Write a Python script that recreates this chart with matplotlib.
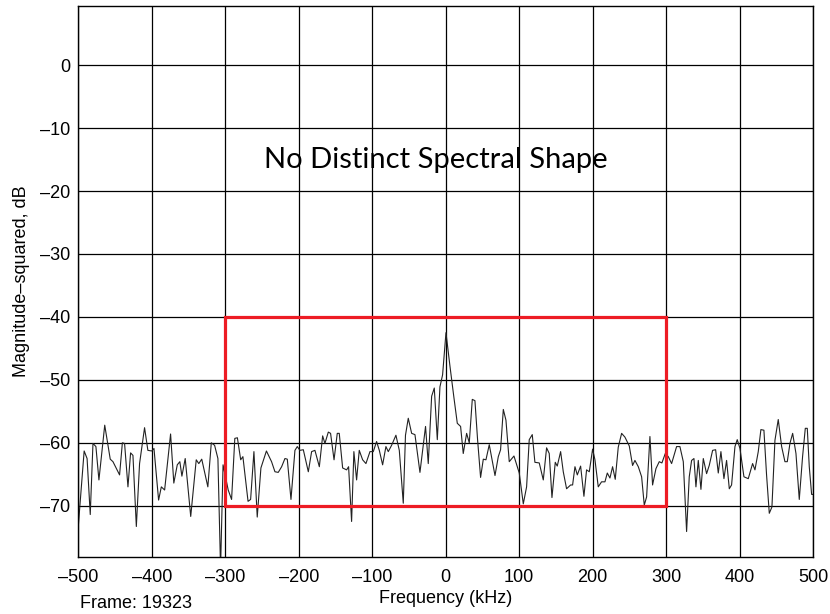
import matplotlib
matplotlib.use("Agg")
import matplotlib.pyplot as plt
from matplotlib.patches import Rectangle

# spectrum trace, frequency in kHz and magnitude-squared in dB
freq_khz = [
    -500, -492, -488, -483.7, -480, -476, -471.9, -464, -456.5, -452.8,
    -443.8, -440, -437, -432.4, -428.8, -425.6, -421, -416.6, -409.8, -405.3,
    -400, -397, -390.7, -387, -382.5, -374.4, -370, -365.3, -361.8, -359,
    -354.5, -347, -339.5, -336, -332, -323.7, -319, -314.5, -310, -306.4,
    -303, -296, -291.4, -287, -283.5, -279, -276, -269, -265.5, -261,
    -256.5, -251.5, -244, -237, -232.4, -227.9, -223.3, -218.8, -215.6, -210.6,
    -205.2, -202, -198.4, -193.8, -187, -182.5, -178, -172, -167.5, -164.4,
    -159.8, -156.7, -152, -147.6, -144.9, -140.3, -134.9, -132.2, -128.1, -125,
    -121.3, -117.7, -113.1, -108.6, -103.1, -98.6, -94.1, -90.4, -85.9, -81.4,
    -78.2, -73.7, -67.8, -63.2, -57.8, -54.8, -51, -46.4, -41.9, -35.1,
    -27.5, -23.8, -19.2, -15.6, -11.5, -7.9, -4.3, 0.3, 5.7, 11.1,
    15.7, 20.2, 23.8, 28.4, 32, 36.1, 39.7, 43.3, 47.4, 51.1,
    54.7, 59.2, 67, 71.5, 74.6, 78.3, 81.9, 86.4, 92.8, 100,
    105.5, 110, 113.6, 117.7, 121.3, 127.2, 132.7, 137.2, 140.8, 144.5,
    149, 151.7, 156.3, 159.9, 164.4, 169.9, 172.6, 175.8, 179, 183.5,
    188, 191.6, 195.3, 199.8, 203, 207.5, 212, 216.6, 219.8, 223.4,
    227, 230.6, 234.7, 239.3, 243.8, 249.7, 254.2, 257.4, 262, 266.5,
    270.1, 273.3, 277.8, 281.4, 286, 290.5, 294.1, 298.7, 302.8, 307.3,
    314.1, 318.6, 323.2, 327.7, 331.3, 334.5, 337.7, 340.4, 343.6, 347.2,
    350.4, 354.9, 358.5, 363.1, 367.2, 370.8, 374.4, 378.5, 382.1, 385.8,
    388.9, 393.5, 396.6, 400.3, 405.7, 411.6, 417.5, 420.7, 425.2, 428.8,
    432.9, 436.5, 440.2, 443.8, 447.9, 452.4, 457, 461.5, 464.7, 468.3,
    472, 476.5, 481, 485.5, 489.2, 491.9, 494.6, 497.8, 500,
]
mag_db = [
    -73.3, -61.3, -62.5, -71.4, -60.1, -60.6, -65.9, -57.2, -62.6, -63.0,
    -65.1, -60.0, -60.1, -67.0, -61.6, -62.0, -73.3, -63.3, -57.6, -61.2,
    -61.3, -60.9, -69.1, -67.0, -67.5, -58.6, -66.4, -63.5, -63.0, -65.3,
    -62.5, -71.7, -62.7, -63.3, -62.6, -67.0, -60.0, -60.4, -62.5, -80.0,
    -63.5, -67.5, -69.0, -59.3, -59.2, -62.7, -62.2, -69.3, -69.0, -61.4,
    -71.8, -64.0, -61.3, -63.0, -64.6, -64.7, -63.8, -62.5, -62.6, -69.0,
    -61.2, -60.6, -61.2, -61.1, -64.6, -61.4, -61.2, -63.8, -58.9, -60.1,
    -58.3, -58.5, -62.7, -58.5, -58.5, -64.0, -64.3, -63.8, -72.5, -61.4,
    -65.9, -61.2, -62.7, -63.3, -61.4, -61.4, -59.8, -61.2, -63.5, -60.6,
    -61.4, -60.4, -58.8, -61.2, -69.6, -58.8, -56.1, -58.5, -58.7, -64.7,
    -57.4, -63.3, -52.6, -51.3, -59.5, -51.1, -49.2, -42.5, -47.8, -52.8,
    -56.9, -57.4, -61.7, -58.5, -60.0, -53.1, -53.3, -59.5, -65.5, -62.6,
    -62.7, -60.3, -65.2, -62.2, -61.1, -54.7, -56.4, -63.0, -62.1, -64.8,
    -69.7, -67.0, -59.5, -58.7, -63.1, -63.2, -65.9, -60.8, -61.7, -68.7,
    -63.1, -63.7, -61.4, -64.6, -67.3, -66.7, -66.7, -63.8, -65.1, -63.7,
    -68.5, -64.3, -64.6, -61.0, -62.7, -67.0, -66.2, -66.2, -64.8, -65.6,
    -63.8, -65.8, -60.7, -58.5, -59.1, -60.5, -63.6, -62.8, -63.8, -65.4,
    -69.9, -68.6, -59.0, -66.7, -64.1, -63.0, -63.2, -61.7, -62.2, -63.3,
    -60.6, -60.6, -63.0, -74.1, -65.4, -62.8, -62.5, -67.0, -62.8, -67.4,
    -62.5, -64.9, -63.6, -61.2, -61.1, -64.8, -61.4, -65.7, -62.8, -67.3,
    -66.7, -60.6, -59.5, -60.9, -65.4, -65.7, -63.3, -64.3, -61.4, -57.9,
    -58.0, -65.1, -71.2, -70.2, -59.6, -56.3, -60.6, -63.0, -63.0, -60.1,
    -58.5, -61.7, -69.0, -62.2, -57.7, -57.7, -63.8, -68.2, -68.2,
]

x_ticks = [-500, -400, -300, -200, -100, 0, 100, 200, 300, 400, 500]
y_ticks = [0, -10, -20, -30, -40, -50, -60, -70]

# highlighted region: frequency span and level span
box_freq = (-300, 300)
box_db = (-70, -40)

annotation = "No Distinct Spectral Shape"
frame_label = "Frame: 19323"

plt.rcParams["font.family"] = ["Liberation Sans", "DejaVu Sans"]

fig = plt.figure(figsize=(8.3, 6.14), dpi=100)
ax = fig.add_axes([0.0943, 0.0933, 0.8855, 0.8969])

ax.plot(freq_khz, mag_db, color="#222222", linewidth=0.8)

ax.set_xlim(-500, 500)
ax.set_ylim(-78.1, 9.4)
ax.set_xticks(x_ticks)
ax.set_yticks(y_ticks)
ax.set_xticklabels([f"{t}".replace("-", "\u2013") for t in x_ticks])
ax.set_yticklabels([f"{t}".replace("-", "\u2013") for t in y_ticks])
ax.tick_params(length=0, labelsize=13)
ax.tick_params(axis="x", pad=9)
ax.tick_params(axis="y", pad=6)
ax.grid(True, color="black", linewidth=0.9)
for sp in ax.spines.values():
    sp.set_linewidth(1.0)

ax.add_patch(Rectangle((box_freq[0], box_db[0]), box_freq[1] - box_freq[0],
                       box_db[1] - box_db[0], fill=False,
                       edgecolor="#ed1c24", linewidth=2.3, zorder=3))

ax.text(-13, -15.0, annotation, ha="center", va="center", fontsize=21,
        family=["Lato", "DejaVu Sans"])

ax.set_xlabel("Frequency (kHz)", fontsize=13, labelpad=3)
ax.set_ylabel("Magnitude\u2013squared, dB", fontsize=13, labelpad=7)
fig.text(80 / 830, 1 - 603 / 614, frame_label, ha="left", va="center",
         fontsize=13)

fig.savefig("out.png", dpi=100)
